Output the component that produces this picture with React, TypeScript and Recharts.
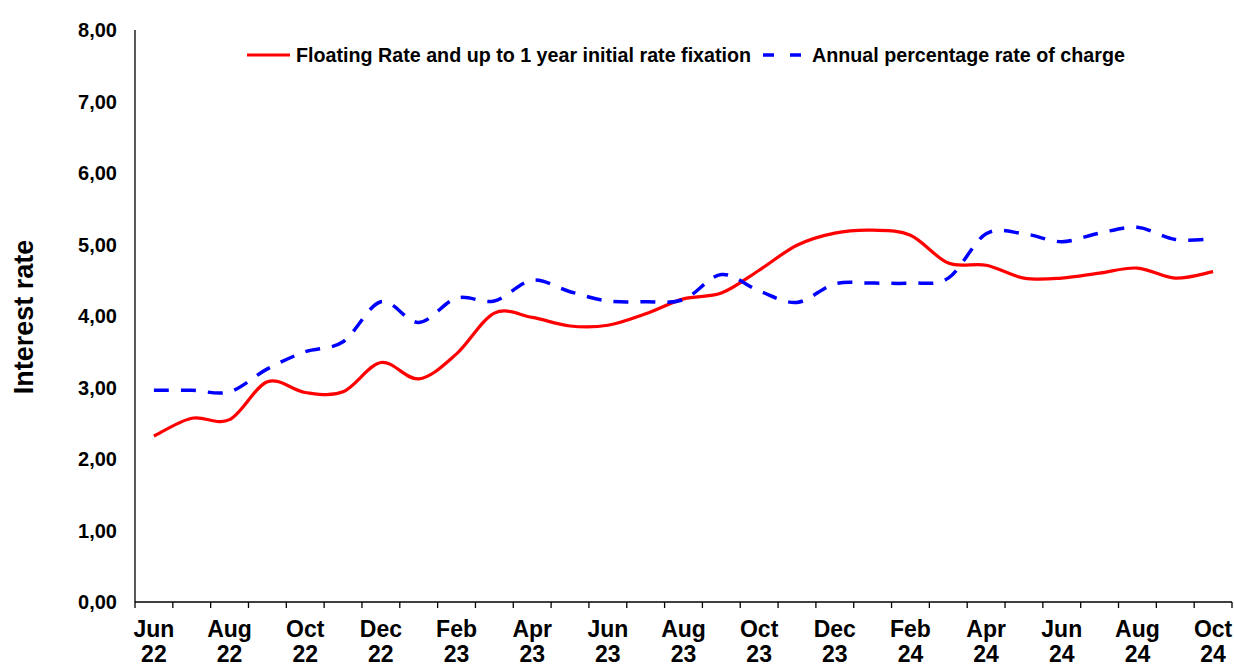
import React from 'react';
import { LineChart, Line, XAxis, YAxis, Legend } from 'recharts';

const months = [
  'Jun 22', 'Jul 22', 'Aug 22', 'Sep 22', 'Oct 22', 'Nov 22', 'Dec 22',
  'Jan 23', 'Feb 23', 'Mar 23', 'Apr 23', 'May 23', 'Jun 23', 'Jul 23',
  'Aug 23', 'Sep 23', 'Oct 23', 'Nov 23', 'Dec 23', 'Jan 24', 'Feb 24',
  'Mar 24', 'Apr 24', 'May 24', 'Jun 24', 'Jul 24', 'Aug 24', 'Sep 24', 'Oct 24',
];

const floatingRate = [
  2.32, 2.57, 2.55, 3.08, 2.93, 2.94, 3.35, 3.12, 3.47, 4.04, 3.98, 3.86, 3.87, 4.03,
  4.24, 4.32, 4.64, 4.99, 5.16, 5.2, 5.13, 4.74, 4.71, 4.53, 4.53, 4.6, 4.67, 4.53, 4.62,
];

const aprc = [
  2.96, 2.96, 2.94, 3.26, 3.5, 3.64, 4.2, 3.91, 4.25, 4.21, 4.5, 4.34, 4.21, 4.2,
  4.23, 4.58, 4.35, 4.19, 4.45, 4.46, 4.46, 4.53, 5.15, 5.15, 5.04, 5.16, 5.24, 5.07, 5.08,
];

const yTicks = [0, 1, 2, 3, 4, 5, 6, 7, 8];

const seriesNames = [
  'Floating Rate and up to 1 year initial rate fixation',
  'Annual percentage rate of charge',
];

const data = months.map((m, i) => ({ idx: i, label: m, floating: floatingRate[i], aprc: aprc[i] }));

// x ticks: boundaries (half positions) and centers (integers)
const xTicks: number[] = [];
for (let i = 0; i < months.length; i++) {
  xTicks.push(i - 0.5);
  xTicks.push(i);
}
xTicks.push(months.length - 0.5);

const FONT = '"Liberation Sans", Arial, Helvetica, sans-serif';

// Catmull-Rom style smoothing similar to spreadsheet smoothed lines
function smoothCurve(context: any) {
  let pts: number[][] = [];
  return {
    areaStart() {},
    areaEnd() {},
    lineStart() {
      pts = [];
    },
    point(x: number, y: number) {
      pts.push([+x, +y]);
    },
    lineEnd() {
      const n = pts.length;
      if (!n) return;
      context.moveTo(pts[0][0], pts[0][1]);
      if (n === 1) return;
      for (let i = 0; i < n - 1; i++) {
        const p0 = pts[i - 1] || pts[i];
        const p1 = pts[i];
        const p2 = pts[i + 1];
        const p3 = pts[i + 2] || pts[i + 1];
        const c1x = p1[0] + (p2[0] - p0[0]) / 6;
        const c1y = p1[1] + (p2[1] - p0[1]) / 6;
        const c2x = p2[0] - (p3[0] - p1[0]) / 6;
        const c2y = p2[1] - (p3[1] - p1[1]) / 6;
        context.bezierCurveTo(c1x, c1y, c2x, c2y, p2[0], p2[1]);
      }
    },
  };
}

function XTick(props: any) {
  const { x, y, payload } = props;
  const v = payload.value;
  if (Number.isInteger(v)) {
    if (v % 2 !== 0) return <g />;
    const [m, yr] = months[v].split(' ');
    return (
      <text textAnchor="middle" fill="#000" fontFamily={FONT} fontSize={23} fontWeight="bold">
        <tspan x={x} y={y + 35}>{m}</tspan>
        <tspan x={x} y={y + 60}>{yr}</tspan>
      </text>
    );
  }
  return <line x1={x} x2={x} y1={y} y2={y + 6} stroke="#000" strokeWidth={1.3} />;
}

function LegendContent() {
  const textStyle: React.CSSProperties = {
    position: 'absolute',
    top: 0,
    fontFamily: FONT,
    fontSize: 19.7,
    fontWeight: 'bold',
    color: '#000',
    lineHeight: '24px',
    whiteSpace: 'nowrap',
  };
  return (
    <div style={{ position: 'relative', width: 890, height: 24 }}>
      <svg style={{ position: 'absolute', left: 0, top: 7 }} width={44} height={10}>
        <line x1={0} x2={43} y1={5} y2={5} stroke="#ff0000" strokeWidth={3} />
      </svg>
      <span style={{ ...textStyle, left: 49 }}>{seriesNames[0]}</span>
      <svg style={{ position: 'absolute', left: 516, top: 7 }} width={44} height={10}>
        <line x1={0} x2={42} y1={5} y2={5} stroke="#0000ff" strokeWidth={3.5} strokeDasharray="11 16" />
      </svg>
      <span style={{ ...textStyle, left: 565 }}>{seriesNames[1]}</span>
    </div>
  );
}

export default function App() {
  return (
    <div style={{ position: 'absolute', left: 0, top: 0, width: 1234, height: 666, background: '#fff' }}>
      <LineChart width={1234} height={666} data={data} margin={{ top: 30, right: 2, bottom: 0, left: 0 }}>
        <XAxis
          dataKey="idx"
          type="number"
          domain={[-0.5, months.length - 0.5]}
          ticks={xTicks}
          interval={0}
          tick={<XTick />}
          tickLine={false}
          tickSize={0}
          tickMargin={0}
          height={64}
          axisLine={{ stroke: '#000', strokeWidth: 1.3 }}
        />
        <YAxis
          type="number"
          domain={[0, 8]}
          ticks={yTicks}
          interval={0}
          width={135}
          tickLine={false}
          tickSize={0}
          tickMargin={18}
          tickFormatter={(v: number) => v.toFixed(2).replace('.', ',')}
          tick={{ fill: '#000', fontFamily: FONT, fontSize: 20, fontWeight: 'bold' }}
          axisLine={{ stroke: '#000', strokeWidth: 1.3 }}
          label={{
            content: () => (
              <text
                x={33}
                y={317}
                transform="rotate(-90, 33, 317)"
                textAnchor="middle"
                fill="#000"
                fontFamily={FONT}
                fontSize={27}
                fontWeight="bold"
              >
                Interest rate
              </text>
            ),
          }}
        />
        <Legend
          verticalAlign="middle"
          layout="horizontal"
          wrapperStyle={{ position: 'absolute', left: 247, top: 43, width: 'auto', height: 24 }}
          content={() => <LegendContent />}
        />
        <Line
          dataKey="floating"
          name={seriesNames[0]}
          type={smoothCurve as any}
          stroke="#ff0000"
          strokeWidth={3.2}
          dot={false}
          activeDot={false}
          isAnimationActive={false}
        />
        <Line
          dataKey="aprc"
          name={seriesNames[1]}
          type={smoothCurve as any}
          stroke="#0000ff"
          strokeWidth={3.5}
          strokeDasharray="15 12"
          dot={false}
          activeDot={false}
          isAnimationActive={false}
        />
      </LineChart>
    </div>
  );
}
